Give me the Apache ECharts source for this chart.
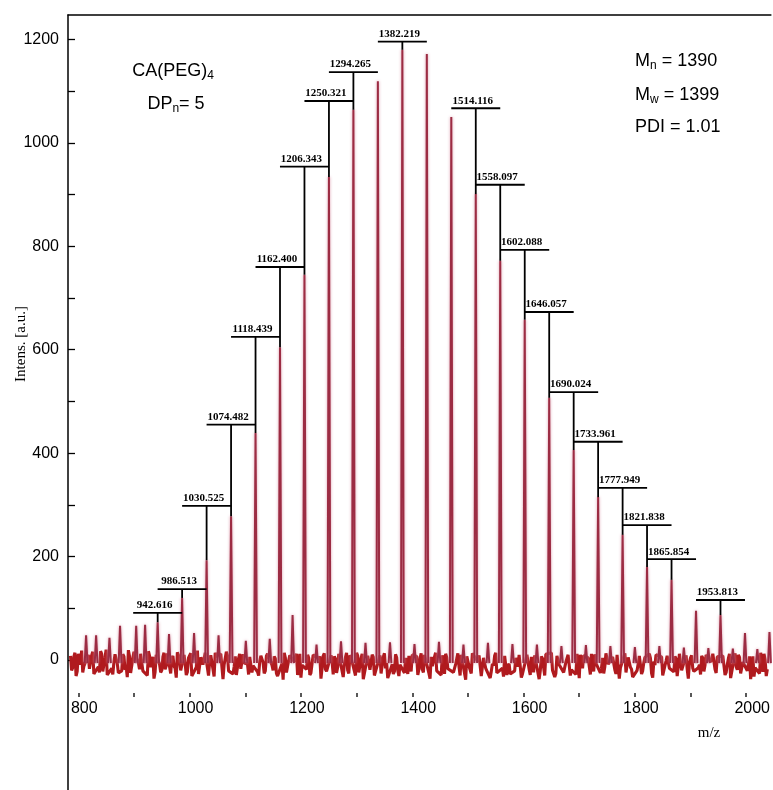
<!DOCTYPE html>
<html>
<head>
<meta charset="utf-8">
<title>MALDI-TOF spectrum of CA(PEG)4</title>
<script src="https://cdn.jsdelivr.net/npm/echarts/dist/echarts.min.js"></script>
<style>
  html, body { margin: 0; padding: 0; background: #ffffff; }
  #chart { width: 773px; height: 790px; }
</style>
</head>
<body>
<div id="chart"></div>
<script>
// Main oligomer series (m/z, intensity in a.u.)
const peakMz = [942.616, 986.513, 1030.525, 1074.482, 1118.439, 1162.400, 1206.343, 1250.321, 1294.265,
                1338.24, 1382.219, 1426.19, 1470.15, 1514.116, 1558.097, 1602.088, 1646.057, 1690.024,
                1733.961, 1777.949, 1821.838, 1865.854, 1909.83, 1953.813, 1997.80, 2041.78];
const peakIntensity = [73, 120, 193, 278, 439, 605, 745, 934, 1064,
                       1119, 1180, 1172, 1050, 901, 772, 658, 507, 406,
                       315, 242, 180, 155, 95, 87, 52, 54];

// Minor series between the main peaks
const minorMz = [814, 832, 856, 875, 904, 920, 963, 1008, 1052, 1101, 1144, 1185, 1228, 1272, 1316,
                 1360, 1404, 1448, 1492, 1536, 1580, 1624, 1668, 1712, 1756, 1800, 1844, 1888, 1932,
                 1976, 2020];
const minorIntensity = [48, 48, 43, 66, 66, 68, 50, 52, 48, 37, 41, 87, 30, 36, 33,
                        34, 31, 35, 30, 33, 31, 30, 27, 29, 27, 25, 27, 24, 23,
                        22, 21];

// Labelled peaks: m/z and height of the label bar
const labelMz = [942.616, 986.513, 1030.525, 1074.482, 1118.439, 1162.400, 1206.343, 1250.321, 1294.265,
                 1382.219, 1514.116, 1558.097, 1602.088, 1646.057, 1690.024, 1733.961, 1777.949,
                 1821.838, 1865.854, 1953.813];
const labelLevel = [91, 137, 298, 455, 625, 760, 954, 1081, 1137,
                    1196, 1067, 919, 793, 673, 518, 422, 333,
                    261, 195, 116];

// Baseline noise readings: noiseA at 786 + 4k, noiseB at 788 + 4k (m/z)
const noiseStart = 786;
const noiseStep = 4;
const noiseA = [
  8,-15,14,-22,3,18,-12,-26,10,-4,16,-19,5,-24,12,
  -9,20,-17,2,-28,11,-6,15,-21,7,-13,19,-25,4,-10,
  13,-18,9,-27,-3,17,-14,6,-23,12,-8,-20,14,-11,3,
  -26,8,-16,15,-5,-22,10,-29,4,13,-15,-7,18,-24,1,
  -12,6,-30,9,-18,14,-4,-25,11,-9,16,-21,2,-27,7,
  -14,12,-19,-6,15,-28,5,-11,17,-23,-2,10,-26,8,-16,
  13,-20,3,-31,9,-7,14,-24,-1,11,-17,6,-29,12,-10,
  -33,-18,4,-25,10,-12,-27,7,-15,13,-22,-5,9,-28,2,
  -14,11,-21,-8,14,-26,5,-17,-30,8,-11,12,-24,-3,10,
  -19,6,-28,-12,9,-23,13,-6,-16,4,-27,11,-20,-9,7,
  -25,-14,8,-22,12,-7,-29,3,-18,10,-13,-26,6,-10,14,
  -21,-4,9,-27,5,-15,11,-24,-8,13,-30,2,-17,7,-12,
  -26,10,-19,-3,12,-28,6,-14,9,-22,-11,14,-25,1,-16,
  8,-29,-7,11,-20,4,-13,13,-27,-5,10,-18,6,-24,-9,
  12,-21,3,-30,9,-12,14,-17,-26,7,-8,11,-23,-2,13,
  -19,5,-28,-10,10,-16,6,-31,2,12,-22,-6,9,-25,4,
  -13,14,-20,-4,8,-27,11,-15,-9,13,-24,3,-18,10,-29,
  -7,9,-21,5,-14,12,-26,-3,10,-19,7,-30,-11,8,-16,
  11,-23,2,-12,13,-27,6,-18,-5,9,-22,12,-15,-28,4,
  -10,14,-20,-6,11,-25,3,-17,8,-29,-9,12,-19,5,-13,
  10,-26,-4,13,-21,7,-15,-32,9,-11,14,-23,1,-18,6
];
const noiseB = [
  -20,6,-31,12,-9,-24,15,-3,-17,9,-27,2,-13,17,-22,
  5,-29,10,-16,-4,13,-25,-8,11,-19,-33,7,-11,16,-26,
  -6,12,-21,3,-30,8,-15,-36,10,-2,-24,6,-18,13,-28,
  4,-12,-34,9,-20,15,-7,-23,1,-31,11,-14,-27,5,-9,
  14,-25,-3,10,-32,7,-19,12,-37,-6,9,-22,15,-13,-29,
  3,-17,11,-35,-8,6,-24,13,-15,-30,8,-5,-21,12,-33,
  -10,7,-26,14,-18,-38,4,-12,9,-27,-3,12,-20,-34,6,
  -15,10,-29,-7,13,-23,2,-36,8,-18,11,-31,-4,7,-25,
  12,-13,-33,5,-20,9,-28,-9,14,-24,3,-37,-11,8,-19,
  10,-30,-2,13,-26,6,-16,-35,11,-8,-22,5,-31,12,-14,
  4,-27,-9,10,-33,7,-18,13,-24,-4,9,-36,-12,6,-21,
  11,-29,-6,12,-17,-34,8,-23,3,-13,10,-28,-38,7,-10,
  13,-22,-5,9,-31,4,-16,11,-35,-7,8,-25,12,-19,-32,
  6,-11,-27,13,-21,-3,10,-34,5,-15,12,-29,-8,9,-23,
  -37,7,-14,11,-26,2,-20,-33,8,-9,13,-24,-4,10,-30,
  5,-18,12,-35,-6,9,-22,4,-28,-12,11,-32,7,-16,-26,
  13,-8,-30,6,-19,10,-36,-3,12,-24,5,-14,-33,9,-20,
  8,-27,-5,11,-22,3,-34,-10,13,-17,6,-29,-2,10,-25,
  -13,7,-31,12,-20,-6,9,-36,4,-16,11,-27,-9,8,-22,
  10,-33,-4,12,-18,6,-29,-11,9,-24,3,-35,-7,13,-19,
  5,-28,-12,11,-21,-37,7,-15,10,-26,-3,12,-31,-8,9
];

// Axis ticks
const xTicks = [800, 900, 1000, 1100, 1200, 1300, 1400, 1500, 1600, 1700, 1800, 1900, 2000];
const xLabels = [800, 1000, 1200, 1400, 1600, 1800, 2000];
const yTicks = [0, 100, 200, 300, 400, 500, 600, 700, 800, 900, 1000, 1100, 1200];
const yLabels = [0, 200, 400, 600, 800, 1000, 1200];

// Baseline trace: noise readings away from the peak centres
const allPeaks = peakMz.map((m, i) => [m, peakIntensity[i]])
  .concat(minorMz.map((m, i) => [m, minorIntensity[i]]))
  .sort((a, b) => a[0] - b[0]);
const readings = noiseA.map((v, k) => [noiseStart + noiseStep * k, v])
  .concat(noiseB.map((v, k) => [noiseStart + 2 + noiseStep * k, v]))
  .sort((a, b) => a[0] - b[0]);
const baseline = readings.filter(r => allPeaks.every(p => Math.abs(p[0] - r[0]) > 2.5));

// Peak spikes, each one a separate short stroke rising from the baseline
const HALF_WIDTH = 2.5;
const spikes = [];
allPeaks.forEach(p => {
  spikes.push([p[0] - HALF_WIDTH, -6]);
  spikes.push([p[0], p[1]]);
  spikes.push([p[0] + HALF_WIDTH, -6]);
  spikes.push([p[0] + HALF_WIDTH, null]);
});

// Label bar data: m/z, bar level, top of the peak it points to
const labelData = labelMz.map((m, i) => {
  const k = peakMz.indexOf(m);
  return [m, labelLevel[i], peakIntensity[k]];
});

const SANS = "'Liberation Sans', Arial, sans-serif";
const SERIF = "'Liberation Serif', 'Times New Roman', serif";
const plain = v => String(v);

const chart = echarts.init(document.getElementById('chart'), null, { renderer: 'canvas' });

const richSub = {
  a: { fontSize: 18, fontFamily: SANS, color: '#000', lineHeight: 22 },
  s: { fontSize: 12, fontFamily: SANS, color: '#000', lineHeight: 14, verticalAlign: 'bottom' }
};

chart.setOption({
  animation: false,
  backgroundColor: '#ffffff',
  grid: { left: 68, right: 0, top: 15, bottom: 0, containLabel: false },
  xAxis: [
    {
      type: 'value',
      position: 'bottom',
      min: 781.5,
      max: 2044.3,
      offset: -93,
      axisLine: { show: true, onZero: false, lineStyle: { color: 'rgba(0,0,0,0)', width: 1 } },
      axisTick: { show: true, inside: true, length: 4, customValues: xTicks,
                  lineStyle: { color: '#222', width: 1.5 } },
      axisLabel: { show: true, customValues: xLabels, formatter: plain, margin: 4, padding: [0, 0, 0, 12],
                   color: '#000', fontSize: 16, fontFamily: SANS },
      splitLine: { show: false }
    },
    {
      type: 'value',
      position: 'top',
      min: 781.5,
      max: 2044.3,
      axisLine: { show: true, onZero: false, lineStyle: { color: '#000', width: 1.5 } },
      axisTick: { show: false },
      axisLabel: { show: false },
      splitLine: { show: false }
    }
  ],
  yAxis: {
    type: 'value',
    min: -251.4,
    max: 1247.3,
    axisLine: { show: true, onZero: false, lineStyle: { color: '#000', width: 1.5 } },
    axisTick: { show: true, inside: true, length: 7, customValues: yTicks,
                lineStyle: { color: '#000', width: 1.3 } },
    axisLabel: { show: true, customValues: yLabels, formatter: plain, margin: 9, padding: [8, 0, 0, 0],
                 color: '#000', fontSize: 16, fontFamily: SANS },
    splitLine: { show: false }
  },
  series: [
    {
      type: 'line',
      name: 'baseline',
      xAxisIndex: 0,
      data: baseline,
      sampling: 'none',
      showSymbol: false,
      symbol: 'none',
      clip: true,
      lineStyle: { color: '#b01a1e', width: 3.1 },
      z: 2
    },
    {
      type: 'line',
      name: 'peaks',
      xAxisIndex: 0,
      data: spikes,
      showSymbol: false,
      symbol: 'none',
      connectNulls: false,
      clip: true,
      lineStyle: { color: '#9c2c43', width: 2,
                   shadowBlur: 3, shadowColor: 'rgba(215,140,160,0.9)' },
      z: 3
    },
    {
      type: 'custom',
      name: 'peak labels',
      xAxisIndex: 0,
      data: labelData,
      clip: false,
      z: 4,
      renderItem: function (params, api) {
        const mz = api.value(0);
        const level = api.value(1);
        const top = api.value(2);
        const left = api.coord([mz - 44, level]);
        const right = api.coord([mz + 44, level]);
        const mid = api.coord([mz, level]);
        const foot = api.coord([mz, top]);
        return {
          type: 'group',
          children: [
            { type: 'line', shape: { x1: left[0], y1: left[1], x2: right[0], y2: right[1] },
              style: { stroke: '#000', lineWidth: 1.8 } },
            { type: 'line', shape: { x1: mid[0], y1: mid[1], x2: foot[0], y2: foot[1] },
              style: { stroke: '#000', lineWidth: 1.8 } },
            { type: 'text', x: mid[0] - 3, y: mid[1] - 2,
              style: { text: mz.toFixed(3), fill: '#000', font: 'bold 11px ' + SERIF,
                       textAlign: 'center', textVerticalAlign: 'bottom' } }
          ]
        };
      }
    }
  ],
  graphic: [
    { type: 'text', x: 21, y: 344, rotation: Math.PI / 2,
      style: { text: 'Intens. [a.u.]', fill: '#000', font: '15px ' + SERIF,
               textAlign: 'center', textVerticalAlign: 'middle' } },
    { type: 'text', x: 709, y: 733,
      style: { text: 'm/z', fill: '#000', font: '15px ' + SERIF,
               textAlign: 'center', textVerticalAlign: 'middle' } },
    { type: 'text', x: 173, y: 71,
      style: { text: '{a|CA(PEG)}{s|4}', textAlign: 'center', textVerticalAlign: 'middle', rich: richSub } },
    { type: 'text', x: 176, y: 104,
      style: { text: '{a|DP}{s|n}{a|= 5}', textAlign: 'center', textVerticalAlign: 'middle', rich: richSub } },
    { type: 'text', x: 635, y: 61,
      style: { text: '{a|M}{s|n}{a| = 1390}', textAlign: 'left', textVerticalAlign: 'middle', rich: richSub } },
    { type: 'text', x: 635, y: 95,
      style: { text: '{a|M}{s|w}{a| = 1399}', textAlign: 'left', textVerticalAlign: 'middle', rich: richSub } },
    { type: 'text', x: 635, y: 127,
      style: { text: 'PDI = 1.01', fill: '#000', font: '18px ' + SANS,
               textAlign: 'left', textVerticalAlign: 'middle' } }
  ]
});
</script>
</body>
</html>
